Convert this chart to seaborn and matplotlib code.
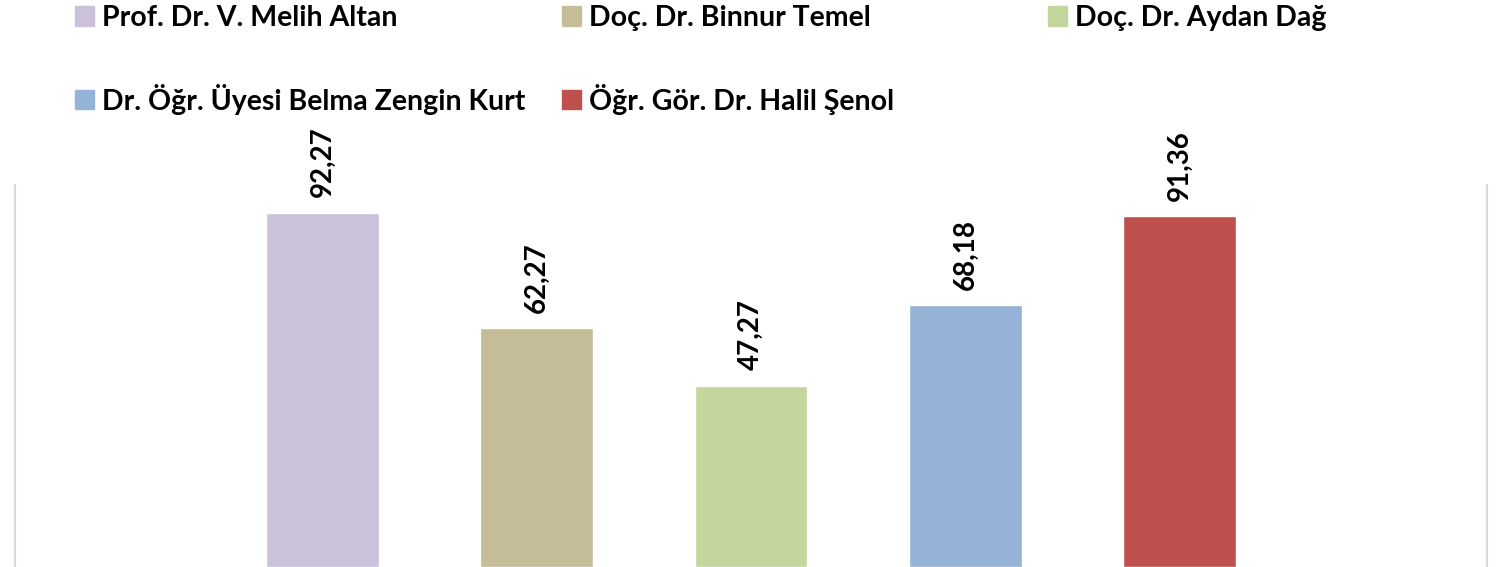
import matplotlib
matplotlib.use("Agg")
import matplotlib.pyplot as plt
import matplotlib.patches as mpatches
import seaborn as sns

names = [
    "Prof. Dr. V. Melih Altan",
    "Doç. Dr. Binnur Temel",
    "Doç. Dr. Aydan Dağ",
    "Dr. Öğr. Üyesi Belma Zengin Kurt",
    "Öğr. Gör. Dr. Halil Şenol",
]
scores = [92.27, 62.27, 47.27, 68.18, 91.36]
labels = ["92,27", "62,27", "47,27", "68,18", "91,36"]
colors = ["#CCC1DA", "#C4BD97", "#C3D69B", "#95B3D7", "#C0504D"]

sns.set_style("white")
plt.rcParams["font.family"] = ["Lato", "DejaVu Sans"]

W, H = 1506, 567
fig = plt.figure(figsize=(W / 100, H / 100), dpi=100)
ax = fig.add_axes([15 / W, 0, (1487 - 15) / W, (567 - 185) / H])

sns.barplot(x=names, y=scores, hue=names, palette=colors, width=0.527,
            legend=False, saturation=1, ax=ax)

for cont, lab in zip(ax.containers, labels):
    ax.bar_label(cont, labels=[lab], rotation=90, padding=11,
                 fontsize=20, fontweight="bold", color="black")

ax.set_xlim(-1.435, 5.435)
ax.set_ylim(0, 99.5)
ax.set_xticks([])
ax.set_yticks([])
ax.set_xlabel("")
ax.set_ylabel("")
ax.patch.set_alpha(0)
for side in ["top", "bottom"]:
    ax.spines[side].set_visible(False)
for side in ["left", "right"]:
    ax.spines[side].set_color("#d9d9d9")
    ax.spines[side].set_linewidth(1.5)

# legend: 3 columns, filled row by row like the original
handles = [mpatches.Patch(color=c, label=n) for c, n in zip(colors, names)]
columns = [([0, 3], 75), ([1, 4], 562), ([2], 1048)]
for idx, xpx in columns:
    fig.legend(handles=[handles[i] for i in idx], loc="upper left",
               bbox_to_anchor=(xpx / W, 1 - 5 / H), frameon=False,
               prop={"size": 20.5, "weight": "bold"}, labelcolor="black",
               handlelength=0.66, handleheight=0.66, handletextpad=0.3,
               labelspacing=1.85, borderpad=0, borderaxespad=0)

fig.savefig("out.png", dpi=100, facecolor="white")
